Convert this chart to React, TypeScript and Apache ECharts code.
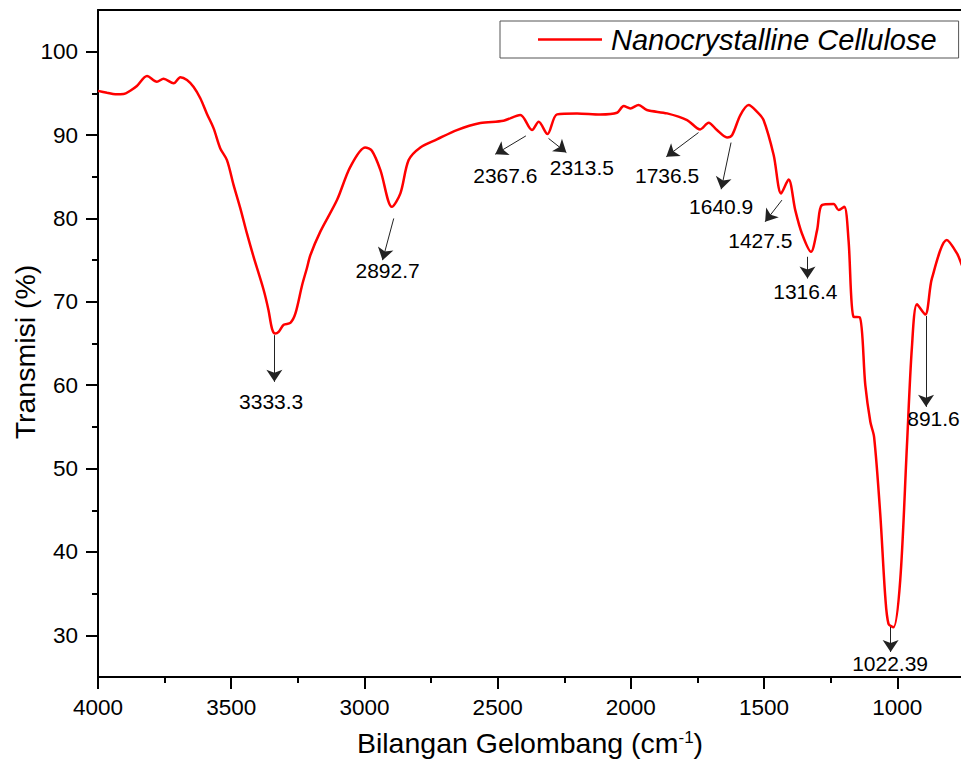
import React, { useEffect, useRef } from "react";
import * as echarts from "echarts";

// Spectrum (wavenumber in cm-1, transmittance in %)
const wavenumber = [
  4000, 3966, 3935, 3904, 3879, 3854, 3816, 3779, 3754, 3716, 3691, 3666, 3641, 3616, 3591,
  3566, 3541, 3516, 3491, 3466, 3441, 3416, 3378, 3360, 3347, 3335, 3322, 3303, 3278, 3259,
  3234, 3216, 3203, 3166, 3103, 3053, 2997, 2972, 2940, 2897, 2865, 2834, 2790, 2728, 2653,
  2565, 2478, 2415, 2371, 2346, 2313, 2277, 2202, 2115, 2052, 2027, 2002, 1971, 1940, 1864,
  1789, 1740, 1708, 1677, 1639, 1620, 1589, 1558, 1527, 1502, 1464, 1436, 1408, 1383, 1358,
  1324, 1301, 1283, 1239, 1220, 1199, 1183, 1164, 1141, 1120, 1101, 1087, 1064, 1045, 1033,
  1014, 989, 964, 945, 926, 895, 870, 814, 776, 760, 740,
];
const transmittance = [
  95.3, 95.08, 94.89, 94.92, 95.32, 95.88, 97.08, 96.4, 96.76, 96.2, 96.93, 96.6, 95.76, 94.41, 92.53,
  90.8, 88.4, 87.0, 84.0, 81.24, 78.2, 75.39, 71.39, 68.99, 66.79, 66.19, 66.39, 67.25, 67.47, 68.6,
  71.99, 74.03, 75.59, 78.39, 82.2, 86.19, 88.52, 88.12, 85.8, 81.39, 83.0, 87.0, 88.52, 89.48, 90.6,
  91.44, 91.72, 92.4, 90.6, 91.6, 90.12, 92.48, 92.6, 92.48, 92.68, 93.48, 93.2, 93.6, 93.0, 92.6,
  91.8, 90.68, 91.48, 90.6, 89.72, 90.0, 92.4, 93.6, 92.8, 91.8, 87.6, 83.0, 84.66, 81.0, 78.2,
  75.99, 78.6, 81.6, 81.72, 81.0, 81.39, 77.4, 68.19, 68.15, 60.0, 55.58, 53.78, 44.58, 34.57, 31.38,
  30.97, 36.58, 52.58, 64.59, 69.71, 68.47, 72.8, 77.4, 75.8, 74.6, 73.0,
];

// Peak annotations
const peakLabels = ["3333.3", "2892.7", "2367.6", "2313.5", "1736.5", "1640.9", "1427.5", "1316.4", "1022.39", "891.6"];
const arrowFromX = [3338, 2890, 2394, 2309, 1746, 1624, 1433, 1337, 1025, 892];
const arrowFromY = [66.0, 80.0, 89.9, 89.6, 90.3, 89.1, 82.2, 75.4, 31.0, 68.3];
const arrowToX = [3338, 2932, 2509, 2242, 1867, 1661, 1496, 1337, 1025, 892];
const arrowToY = [60.4, 75.0, 87.7, 87.9, 87.4, 83.5, 79.6, 72.8, 28.0, 57.4];
const labelX = [3350, 2913, 2471, 2184, 1864, 1661, 1514, 1345, 1027, 864];
const labelY = [58.1, 73.7, 85.2, 86.1, 85.2, 81.4, 77.4, 71.2, 26.6, 56.0];

// Axis ticks
const yMajorTicks = [30, 40, 50, 60, 70, 80, 90, 100];
const yMinorTicks = [35, 45, 55, 65, 75, 85, 95];

const seriesName = "Nanocrystalline Cellulose";
const FONT = "'Liberation Sans', Arial, Helvetica, sans-serif";

// The chart is drawn wider than the page so that its right part is cut off, as in the reference.
const CHART_W = 1031;

export default function App() {
  const ref = useRef<HTMLDivElement>(null);

  useEffect(() => {
    if (!ref.current) return;
    const chart = echarts.init(ref.current, null, { renderer: "svg" });
    const data = wavenumber.map((w, i) => [w, transmittance[i]]);

    chart.setOption({
      animation: false,
      backgroundColor: "#ffffff",
      textStyle: { fontFamily: FONT },
      grid: { left: 98, top: 10, right: 0.5, bottom: 83, containLabel: false, outerBoundsMode: "none" },
      legend: {
        data: [{ name: seriesName, icon: "rect" }],
        left: 500,
        top: 21,
        padding: [4, 22, 4, 38],
        borderColor: "#555",
        borderWidth: 1,
        borderRadius: 0,
        itemWidth: 64,
        itemHeight: 2.5,
        textStyle: {
          fontSize: 29,
          fontStyle: "italic",
          color: "#000",
          fontFamily: FONT,
          padding: [0, 0, 0, 4],
        },
      },
      xAxis: [
        {
          type: "value",
          inverse: true,
          min: 500,
          max: 4000,
          interval: 500,
          position: "bottom",
          axisLine: { show: true, onZero: false, lineStyle: { color: "#000", width: 2 } },
          axisTick: { show: true, length: 12, lineStyle: { color: "#000", width: 2 } },
          minorTick: { show: true, splitNumber: 2, length: 6, lineStyle: { color: "#000", width: 2 } },
          axisLabel: {
            fontSize: 22.5,
            color: "#000",
            margin: 19,
            fontFamily: FONT,
            formatter: (v: number) => (v < 1000 ? "" : String(v)),
          },
          splitLine: { show: false },
        },
        {
          type: "value",
          inverse: true,
          min: 500,
          max: 4000,
          position: "top",
          axisLine: { show: true, onZero: false, lineStyle: { color: "#000", width: 2 } },
          axisTick: { show: false },
          axisLabel: { show: false },
          splitLine: { show: false },
        },
      ],
      yAxis: [
        {
          type: "value",
          min: 25,
          max: 105,
          position: "left",
          axisLine: { show: true, onZero: false, lineStyle: { color: "#000", width: 2 } },
          axisTick: { show: true, length: 12, customValues: yMajorTicks, lineStyle: { color: "#000", width: 2 } },
          axisLabel: {
            fontSize: 22.5,
            color: "#000",
            margin: 20,
            customValues: yMajorTicks,
            fontFamily: FONT,
            formatter: (v: number) => String(v),
          },
          splitLine: { show: false },
        },
        {
          type: "value",
          min: 25,
          max: 105,
          position: "left",
          axisLine: { show: false },
          axisTick: { show: true, length: 6, customValues: yMinorTicks, lineStyle: { color: "#000", width: 2 } },
          axisLabel: { show: false },
          splitLine: { show: false },
        },
      ],
      graphic: [
        {
          type: "text",
          x: 25,
          y: 352,
          rotation: Math.PI / 2,
          style: {
            text: "Transmisi (%)",
            fontSize: 28.5,
            fontFamily: FONT,
            fill: "#000",
            align: "center",
            verticalAlign: "middle",
          },
        },
        {
          type: "text",
          x: 530,
          y: 743,
          style: {
            text: "Bilangan Gelombang (cm{sup|-1})",
            fontSize: 28.5,
            fontFamily: FONT,
            fill: "#000",
            align: "center",
            verticalAlign: "middle",
            rich: {
              sup: { fontSize: 17, fontFamily: FONT, fill: "#000", verticalAlign: "top" },
            },
          },
        },
      ],
      series: [
        {
          name: seriesName,
          type: "line",
          xAxisIndex: 0,
          yAxisIndex: 0,
          data,
          symbol: "none",
          smooth: 0.3,
          color: "#ff0000",
          lineStyle: { color: "#ff0000", width: 2.5 },
          emphasis: { disabled: true },
          markLine: {
            silent: true,
            symbol: ["none", "arrow"],
            symbolSize: 12,
            label: { show: false },
            lineStyle: { color: "#222", width: 1, type: "solid" },
            emphasis: { disabled: true },
            data: peakLabels.map((_, i) => [
              { coord: [arrowFromX[i], arrowFromY[i]] },
              { coord: [arrowToX[i], arrowToY[i]] },
            ]),
          },
          markPoint: {
            silent: true,
            symbol: "circle",
            symbolSize: 0,
            emphasis: { disabled: true },
            label: { show: true, position: "inside", fontSize: 21, color: "#000", fontFamily: FONT },
            data: peakLabels.map((t, i) => ({
              coord: [labelX[i], labelY[i]],
              value: t,
              label: { formatter: t },
            })),
          },
        },
      ],
    });

    return () => chart.dispose();
  }, []);

  return (
    <div
      style={{ position: "absolute", left: 0, top: 0, width: 961, height: 760, overflow: "hidden", background: "#fff" }}
    >
      <div ref={ref} style={{ width: CHART_W, height: 760 }} />
    </div>
  );
}
